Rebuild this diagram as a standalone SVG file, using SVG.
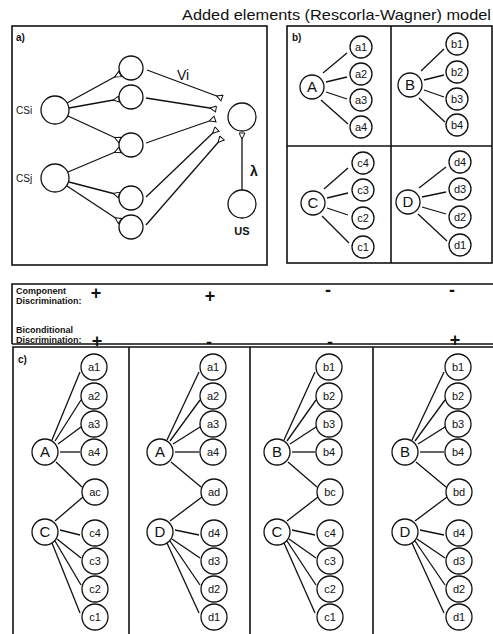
<svg xmlns="http://www.w3.org/2000/svg" width="493" height="634" viewBox="0 0 493 634">
<style>
text{font-family:"Liberation Sans",Arial,sans-serif;fill:#111}
.c{fill:#fff;stroke:#111;stroke-width:1.3}
.l{stroke:#111;stroke-width:1.3;fill:none}
.f{fill:none;stroke:#111;stroke-width:1.6}
.s{font-size:11px;text-anchor:middle}
.b{font-size:15px;text-anchor:middle}
.m{font-size:9px;font-weight:bold}
.p{font-size:18px;font-weight:bold;text-anchor:middle}
.syn{marker-end:url(#tri)}
</style>
<defs>
<marker id="tri" markerWidth="9" markerHeight="9" refX="6.5" refY="3.5" orient="auto" markerUnits="userSpaceOnUse">
<path d="M0.5,3.5 L6.5,0.5 L6.5,6.5 Z" fill="#fff" stroke="#111" stroke-width="1"/>
</marker>
</defs>
<rect width="493" height="634" fill="#fff"/>
<text x="182" y="20" font-size="15" textLength="309" lengthAdjust="spacingAndGlyphs">Added elements (Rescorla-Wagner) model</text>

<g id="frames">
<rect class="f" x="12" y="26" width="255" height="239"/>
<rect class="f" x="287" y="26" width="205" height="237"/>
<line class="f" x1="391" y1="26" x2="391" y2="263"/>
<line class="f" x1="287" y1="146" x2="492" y2="146"/>
<path class="f" d="M12,344 L12,284 L496,284 M12,344 L496,344"/>
<path class="f" d="M13,634 L13,347 L496,347 M129,347 L129,634 M250,347 L250,634 M373,347 L373,634"/>
</g>

<text x="16" y="41" font-size="10" font-weight="bold">a)</text>
<text x="292" y="41" font-size="10" font-weight="bold">b)</text>
<text x="18" y="363" font-size="10" font-weight="bold">c)</text>

<g id="labels-mid">
<text class="m" x="16" y="294">Component</text>
<text class="m" x="16" y="304">Discrimination:</text>
<text class="m" x="16" y="333">Biconditional</text>
<text class="m" x="16" y="343">Discrimination:</text>
<text class="p" x="96" y="299">+</text>
<text class="p" x="210" y="302">+</text>
<text class="p" x="328" y="296">-</text>
<text class="p" x="452" y="296">-</text>
<text class="p" x="97" y="347">+</text>
<text class="p" x="209" y="348">-</text>
<text class="p" x="330" y="348">-</text>
<text class="p" x="455" y="346">+</text>
</g>

<g id="connectors">
<!-- panel a -->
<line class="l syn" x1="67" y1="103" x2="120" y2="74"/>
<line class="l syn" x1="69" y1="108" x2="119" y2="99"/>
<line class="l syn" x1="68" y1="116" x2="120" y2="140"/>
<line class="l syn" x1="68" y1="172" x2="120" y2="150"/>
<line class="l syn" x1="69" y1="182" x2="119" y2="195"/>
<line class="l syn" x1="67" y1="186" x2="120" y2="221"/>
<line class="l syn" x1="147" y1="70" x2="222" y2="98"/>
<line class="l syn" x1="146" y1="98" x2="216" y2="109"/>
<line class="l syn" x1="146" y1="143" x2="215" y2="119"/>
<line class="l syn" x1="146" y1="197" x2="217" y2="129"/>
<line class="l syn" x1="146" y1="225" x2="222" y2="138"/>
<line class="l syn" x1="242" y1="190" x2="242" y2="133"/>
<!-- panel b -->
<line class="l" x1="323" y1="73" x2="347" y2="53"/>
<line class="l" x1="326" y1="82" x2="347" y2="77"/>
<line class="l" x1="326" y1="92" x2="347" y2="99"/>
<line class="l" x1="321" y1="100" x2="348" y2="124"/>
<line class="l" x1="421" y1="71" x2="444" y2="49"/>
<line class="l" x1="424" y1="80" x2="444" y2="75"/>
<line class="l" x1="424" y1="90" x2="444" y2="97"/>
<line class="l" x1="419" y1="98" x2="445" y2="122"/>
<line class="l" x1="324" y1="189" x2="348" y2="168"/>
<line class="l" x1="327" y1="198" x2="348" y2="193"/>
<line class="l" x1="327" y1="208" x2="348" y2="215"/>
<line class="l" x1="322" y1="216" x2="349" y2="243"/>
<line class="l" x1="419" y1="188" x2="446" y2="167"/>
<line class="l" x1="422" y1="197" x2="446" y2="192"/>
<line class="l" x1="422" y1="207" x2="446" y2="214"/>
<line class="l" x1="418" y1="214" x2="447" y2="241"/>
<!-- panel c col1 X=45 S=94 -->
<line class="l" x1="52" y1="440" x2="80" y2="372"/>
<line class="l" x1="55" y1="441" x2="81" y2="400"/>
<line class="l" x1="58" y1="444" x2="81" y2="427"/>
<line class="l" x1="60" y1="452" x2="80" y2="452"/>
<line class="l" x1="56" y1="462" x2="82" y2="487"/>
<line class="l" x1="55" y1="521" x2="83" y2="497"/>
<line class="l" x1="60" y1="530" x2="80" y2="535"/>
<line class="l" x1="57" y1="539" x2="81" y2="558"/>
<line class="l" x1="55" y1="541" x2="81" y2="585"/>
<line class="l" x1="52" y1="543" x2="80" y2="613"/>
<!-- col2 X=160 S=213 -->
<line class="l" x1="167" y1="440" x2="199" y2="372"/>
<line class="l" x1="170" y1="441" x2="200" y2="400"/>
<line class="l" x1="173" y1="444" x2="200" y2="427"/>
<line class="l" x1="175" y1="452" x2="199" y2="452"/>
<line class="l" x1="171" y1="462" x2="201" y2="487"/>
<line class="l" x1="170" y1="521" x2="202" y2="497"/>
<line class="l" x1="175" y1="530" x2="199" y2="535"/>
<line class="l" x1="172" y1="539" x2="200" y2="558"/>
<line class="l" x1="170" y1="541" x2="200" y2="585"/>
<line class="l" x1="167" y1="543" x2="199" y2="613"/>
<!-- col3 X=277 S=329 -->
<line class="l" x1="284" y1="440" x2="315" y2="372"/>
<line class="l" x1="287" y1="441" x2="316" y2="400"/>
<line class="l" x1="290" y1="444" x2="316" y2="427"/>
<line class="l" x1="292" y1="452" x2="315" y2="452"/>
<line class="l" x1="288" y1="462" x2="317" y2="487"/>
<line class="l" x1="287" y1="521" x2="318" y2="497"/>
<line class="l" x1="292" y1="530" x2="315" y2="535"/>
<line class="l" x1="289" y1="539" x2="316" y2="558"/>
<line class="l" x1="287" y1="541" x2="316" y2="585"/>
<line class="l" x1="284" y1="543" x2="315" y2="613"/>
<!-- col4 X=405 S=458 -->
<line class="l" x1="412" y1="440" x2="444" y2="372"/>
<line class="l" x1="415" y1="441" x2="445" y2="400"/>
<line class="l" x1="418" y1="444" x2="445" y2="427"/>
<line class="l" x1="420" y1="452" x2="444" y2="452"/>
<line class="l" x1="416" y1="462" x2="446" y2="487"/>
<line class="l" x1="415" y1="521" x2="447" y2="497"/>
<line class="l" x1="420" y1="530" x2="444" y2="535"/>
<line class="l" x1="417" y1="539" x2="445" y2="558"/>
<line class="l" x1="415" y1="541" x2="445" y2="585"/>
<line class="l" x1="412" y1="543" x2="444" y2="613"/>
</g>

<!-- panel a nodes -->
<g id="CSi"><circle class="c" cx="55" cy="110" r="14"/><text x="16" y="114" font-size="10">CSi</text></g>
<g id="CSj"><circle class="c" cx="55" cy="178" r="14"/><text x="16" y="182" font-size="10">CSj</text></g>
<g id="h1"><circle class="c" cx="131" cy="68" r="12"/></g>
<g id="h2"><circle class="c" cx="131" cy="97" r="12"/></g>
<g id="h3"><circle class="c" cx="131" cy="145" r="12"/></g>
<g id="h4"><circle class="c" cx="131" cy="198" r="12"/></g>
<g id="h5"><circle class="c" cx="131" cy="227" r="12"/></g>
<g id="out"><circle class="c" cx="242" cy="117" r="14"/></g>
<g id="US"><circle class="c" cx="242" cy="204" r="14"/><text x="242" y="235" font-size="11" font-weight="bold" text-anchor="middle">US</text></g>
<text x="183" y="80" font-size="14" text-anchor="middle">Vi</text>
<text x="254" y="176" font-size="14" font-weight="bold" text-anchor="middle">λ</text>

<!-- panel b nodes -->
<g id="bA"><circle class="c" cx="312" cy="87" r="12"/><text class="b" x="312" y="92">A</text></g>
<g id="ba1"><circle class="c" cx="361" cy="47" r="11"/><text class="s" x="361" y="51">a1</text></g>
<g id="ba2"><circle class="c" cx="361" cy="74" r="11"/><text class="s" x="361" y="78">a2</text></g>
<g id="ba3"><circle class="c" cx="361" cy="100" r="11"/><text class="s" x="361" y="104">a3</text></g>
<g id="ba4"><circle class="c" cx="361" cy="127" r="11"/><text class="s" x="361" y="131">a4</text></g>
<g id="bB"><circle class="c" cx="410" cy="85" r="12"/><text class="b" x="410" y="90">B</text></g>
<g id="bb1"><circle class="c" cx="457" cy="44" r="11"/><text class="s" x="457" y="48">b1</text></g>
<g id="bb2"><circle class="c" cx="457" cy="72" r="11"/><text class="s" x="457" y="76">b2</text></g>
<g id="bb3"><circle class="c" cx="457" cy="99" r="11"/><text class="s" x="457" y="103">b3</text></g>
<g id="bb4"><circle class="c" cx="457" cy="125" r="11"/><text class="s" x="457" y="129">b4</text></g>
<g id="bC"><circle class="c" cx="313" cy="203" r="12"/><text class="b" x="313" y="208">C</text></g>
<g id="bc4"><circle class="c" cx="363" cy="163" r="11"/><text class="s" x="363" y="167">c4</text></g>
<g id="bc3"><circle class="c" cx="363" cy="190" r="11"/><text class="s" x="363" y="194">c3</text></g>
<g id="bc2"><circle class="c" cx="363" cy="218" r="11"/><text class="s" x="363" y="222">c2</text></g>
<g id="bc1"><circle class="c" cx="363" cy="247" r="11"/><text class="s" x="363" y="251">c1</text></g>
<g id="bD"><circle class="c" cx="408" cy="202" r="12"/><text class="b" x="408" y="207">D</text></g>
<g id="bd4"><circle class="c" cx="460" cy="162" r="11"/><text class="s" x="460" y="166">d4</text></g>
<g id="bd3"><circle class="c" cx="460" cy="189" r="11"/><text class="s" x="460" y="193">d3</text></g>
<g id="bd2"><circle class="c" cx="460" cy="217" r="11"/><text class="s" x="460" y="221">d2</text></g>
<g id="bd1"><circle class="c" cx="460" cy="245" r="11"/><text class="s" x="460" y="249">d1</text></g>

<!-- panel c col1 -->
<g id="c1A"><circle class="c" cx="45" cy="452" r="13"/><text class="b" x="45" y="457">A</text></g>
<g id="c1a1"><circle class="c" cx="94" cy="367" r="13"/><text class="s" x="94" y="371">a1</text></g>
<g id="c1a2"><circle class="c" cx="94" cy="396" r="13"/><text class="s" x="94" y="400">a2</text></g>
<g id="c1a3"><circle class="c" cx="94" cy="424" r="13"/><text class="s" x="94" y="428">a3</text></g>
<g id="c1a4"><circle class="c" cx="94" cy="452" r="13"/><text class="s" x="94" y="456">a4</text></g>
<g id="c1ac"><circle class="c" cx="95" cy="492" r="13"/><text class="s" x="95" y="496">ac</text></g>
<g id="c1C"><circle class="c" cx="45" cy="532" r="13"/><text class="b" x="45" y="537">C</text></g>
<g id="c1c4"><circle class="c" cx="95" cy="533" r="13"/><text class="s" x="95" y="537">c4</text></g>
<g id="c1c3"><circle class="c" cx="95" cy="561" r="13"/><text class="s" x="95" y="565">c3</text></g>
<g id="c1c2"><circle class="c" cx="95" cy="589" r="13"/><text class="s" x="95" y="593">c2</text></g>
<g id="c1c1"><circle class="c" cx="95" cy="617" r="13"/><text class="s" x="95" y="621">c1</text></g>
<!-- col2 -->
<g id="c2A"><circle class="c" cx="160" cy="452" r="13"/><text class="b" x="160" y="457">A</text></g>
<g id="c2a1"><circle class="c" cx="213" cy="367" r="13"/><text class="s" x="213" y="371">a1</text></g>
<g id="c2a2"><circle class="c" cx="213" cy="396" r="13"/><text class="s" x="213" y="400">a2</text></g>
<g id="c2a3"><circle class="c" cx="213" cy="424" r="13"/><text class="s" x="213" y="428">a3</text></g>
<g id="c2a4"><circle class="c" cx="213" cy="452" r="13"/><text class="s" x="213" y="456">a4</text></g>
<g id="c2ad"><circle class="c" cx="214" cy="492" r="13"/><text class="s" x="214" y="496">ad</text></g>
<g id="c2D"><circle class="c" cx="160" cy="532" r="13"/><text class="b" x="160" y="537">D</text></g>
<g id="c2d4"><circle class="c" cx="214" cy="533" r="13"/><text class="s" x="214" y="537">d4</text></g>
<g id="c2d3"><circle class="c" cx="214" cy="561" r="13"/><text class="s" x="214" y="565">d3</text></g>
<g id="c2d2"><circle class="c" cx="214" cy="589" r="13"/><text class="s" x="214" y="593">d2</text></g>
<g id="c2d1"><circle class="c" cx="214" cy="617" r="13"/><text class="s" x="214" y="621">d1</text></g>
<!-- col3 -->
<g id="c3B"><circle class="c" cx="277" cy="452" r="13"/><text class="b" x="277" y="457">B</text></g>
<g id="c3b1"><circle class="c" cx="329" cy="367" r="13"/><text class="s" x="329" y="371">b1</text></g>
<g id="c3b2"><circle class="c" cx="329" cy="396" r="13"/><text class="s" x="329" y="400">b2</text></g>
<g id="c3b3"><circle class="c" cx="329" cy="424" r="13"/><text class="s" x="329" y="428">b3</text></g>
<g id="c3b4"><circle class="c" cx="329" cy="452" r="13"/><text class="s" x="329" y="456">b4</text></g>
<g id="c3bc"><circle class="c" cx="330" cy="492" r="13"/><text class="s" x="330" y="496">bc</text></g>
<g id="c3C"><circle class="c" cx="277" cy="532" r="13"/><text class="b" x="277" y="537">C</text></g>
<g id="c3c4"><circle class="c" cx="330" cy="533" r="13"/><text class="s" x="330" y="537">c4</text></g>
<g id="c3c3"><circle class="c" cx="330" cy="561" r="13"/><text class="s" x="330" y="565">c3</text></g>
<g id="c3c2"><circle class="c" cx="330" cy="589" r="13"/><text class="s" x="330" y="593">c2</text></g>
<g id="c3c1"><circle class="c" cx="330" cy="617" r="13"/><text class="s" x="330" y="621">c1</text></g>
<!-- col4 -->
<g id="c4B"><circle class="c" cx="405" cy="452" r="13"/><text class="b" x="405" y="457">B</text></g>
<g id="c4b1"><circle class="c" cx="458" cy="367" r="13"/><text class="s" x="458" y="371">b1</text></g>
<g id="c4b2"><circle class="c" cx="458" cy="396" r="13"/><text class="s" x="458" y="400">b2</text></g>
<g id="c4b3"><circle class="c" cx="458" cy="424" r="13"/><text class="s" x="458" y="428">b3</text></g>
<g id="c4b4"><circle class="c" cx="458" cy="452" r="13"/><text class="s" x="458" y="456">b4</text></g>
<g id="c4bd"><circle class="c" cx="459" cy="492" r="13"/><text class="s" x="459" y="496">bd</text></g>
<g id="c4D"><circle class="c" cx="405" cy="532" r="13"/><text class="b" x="405" y="537">D</text></g>
<g id="c4d4"><circle class="c" cx="459" cy="533" r="13"/><text class="s" x="459" y="537">d4</text></g>
<g id="c4d3"><circle class="c" cx="459" cy="561" r="13"/><text class="s" x="459" y="565">d3</text></g>
<g id="c4d2"><circle class="c" cx="459" cy="589" r="13"/><text class="s" x="459" y="593">d2</text></g>
<g id="c4d1"><circle class="c" cx="459" cy="617" r="13"/><text class="s" x="459" y="621">d1</text></g>
</svg>
